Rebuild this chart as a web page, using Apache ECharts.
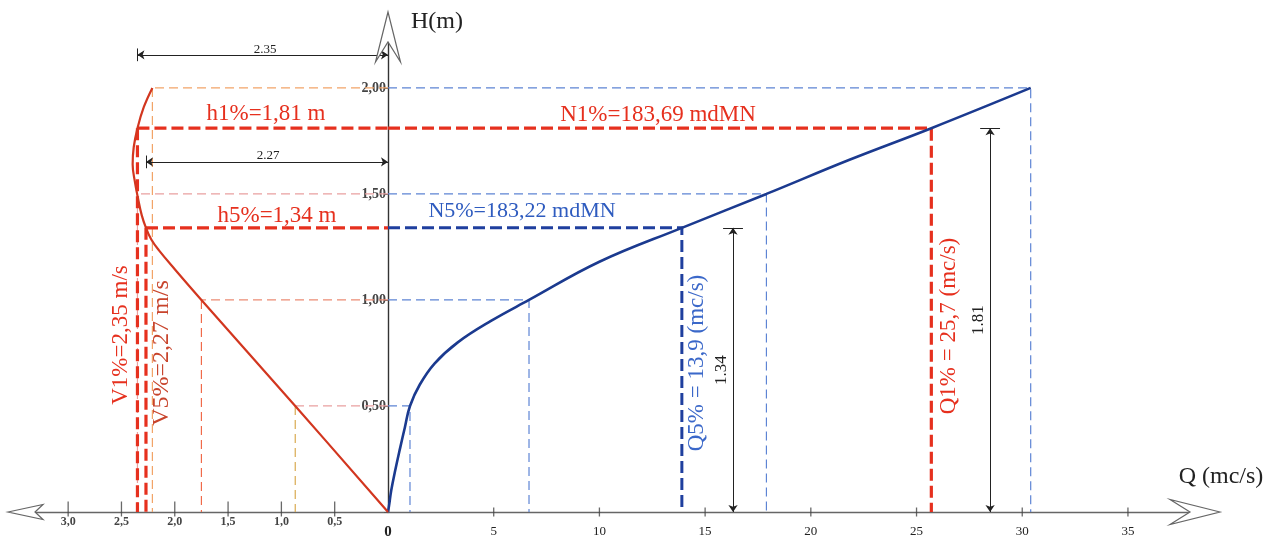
<!DOCTYPE html>
<html><head><meta charset="utf-8">
<script src="https://cdn.jsdelivr.net/npm/echarts@6/dist/echarts.min.js"></script>
<style>html,body{margin:0;padding:0;background:#fff}#c{width:1276px;height:540px}</style>
</head><body><div id="c"></div>
<script>
// ---- data ----
const qTicks = [0, 5, 10, 15, 20, 25, 30, 35];
const vTicks = [0, 0.5, 1.0, 1.5, 2.0, 2.5, 3.0];
const hTicks = [0.5, 1.0, 1.5, 2.0];

// rating curve H(Q)
const ratingQ = [0, 0.05, 0.15, 0.35, 0.57, 0.8, 1.04, 1.5, 2.2, 3.3, 4.85, 6.67, 10.0, 13.9, 17.9, 21.8, 25.7, 30.4];
const ratingH = [0, 0.03, 0.1, 0.2, 0.3, 0.4, 0.5, 0.6, 0.7, 0.8, 0.9, 1.0, 1.18, 1.34, 1.5, 1.66, 1.81, 2.0];

// velocity curve H(V)
const velV = [0, 0.87, 1.75, 2.0, 2.15, 2.22, 2.27, 2.31, 2.345, 2.375, 2.395, 2.385, 2.35, 2.29, 2.21];
const velH = [0, 0.5, 1.0, 1.145, 1.235, 1.285, 1.34, 1.40, 1.48, 1.56, 1.64, 1.72, 1.81, 1.91, 2.0];

// reference levels
const refH = [0.5, 1.0, 1.5, 2.0];
const refQ = [1.04, 6.67, 17.9, 30.4];
const refV = [0.87, 1.75, 2.35, 2.21];

// design values: [1%, 5%]
const designH = [1.81, 1.34];
const designQ = [25.7, 13.9];
const designV = [2.35, 2.27];

// dimension lines
const dimVLevel = [2.156, 1.651];   // H level of the 2.35 / 2.27 dims
const dimQPos = [16.32, 28.48];     // Q position of the 1.34 / 1.81 dims

// ---- build ----
const RED = '#e6301e', BLUE = '#1f3f9e', THINBLUE = '#5d84d4';
const serif = 'Liberation Serif';
const chart = echarts.init(document.getElementById('c'), null, {renderer: 'canvas'});

const leftRefColH = ['#e9a0a0', '#ec8c74', '#e9a0a0', '#f2a468'];
const leftRefColV = ['#d9aa50', '#f06a4a', '#e9a0a0', '#f2a468'];

const series = [];
const L = {xAxisIndex: 0, yAxisIndex: 0}, R = {xAxisIndex: 1, yAxisIndex: 1};

series.push(Object.assign({
  type: 'lines', coordinateSystem: 'cartesian2d', polyline: true, silent: true, z: 2,
  lineStyle: {color: THINBLUE, width: 1.2, type: [9, 5], opacity: 1},
  data: refH.map((h, i) => ({coords: [[0, h], [refQ[i], h], [refQ[i], 0]]}))
}, R));
series.push(Object.assign({
  type: 'lines', coordinateSystem: 'cartesian2d', polyline: true, silent: true, z: 2,
  lineStyle: {width: 1.2, type: [9, 5], opacity: 1},
  data: refH.map((h, i) => ({coords: [[0, h], [refV[i], h]], lineStyle: {color: leftRefColH[i]}}))
    .concat(refH.map((h, i) => ({coords: [[refV[i], h], [refV[i], 0]], lineStyle: {color: leftRefColV[i]}})))
}, L));

series.push(Object.assign({
  type: 'lines', coordinateSystem: 'cartesian2d', polyline: true, silent: true, z: 3,
  lineStyle: {width: 3.2, type: [12, 5], opacity: 1},
  data: [
    {coords: [[designV[0], designH[0]], [0, designH[0]]], lineStyle: {color: RED}},
    {coords: [[designV[0], designH[0]], [designV[0], 0]], lineStyle: {color: RED}},
    {coords: [[designV[1], designH[1]], [0, designH[1]]], lineStyle: {color: RED}},
    {coords: [[designV[1], designH[1]], [designV[1], 0]], lineStyle: {color: RED}}
  ]
}, L));
series.push(Object.assign({
  type: 'lines', coordinateSystem: 'cartesian2d', polyline: true, silent: true, z: 3,
  lineStyle: {width: 3.2, type: [12, 5], opacity: 1},
  data: [
    {coords: [[0, designH[0]], [designQ[0], designH[0]], [designQ[0], 0]], lineStyle: {color: RED}},
    {coords: [[0, designH[1]], [designQ[1], designH[1]], [designQ[1], 0]], lineStyle: {color: BLUE, width: 3}}
  ]
}, R));

series.push(Object.assign({
  type: 'lines', coordinateSystem: 'cartesian2d', silent: true, z: 4,
  symbol: ['arrow', 'arrow'], symbolSize: 7,
  lineStyle: {color: '#222', width: 1, opacity: 1, curveness: 0},
  data: dimVLevel.map((lv, i) => ({coords: [[designV[i], lv], [0, lv]]}))
}, L));
series.push(Object.assign({
  type: 'lines', coordinateSystem: 'cartesian2d', silent: true, z: 4,
  lineStyle: {color: '#222', width: 1, opacity: 1},
  data: dimVLevel.map((lv, i) => ({coords: [[designV[i], lv + 0.03], [designV[i], lv - 0.03]]}))
}, L));
series.push(Object.assign({
  type: 'lines', coordinateSystem: 'cartesian2d', silent: true, z: 4,
  symbol: ['arrow', 'arrow'], symbolSize: 7,
  lineStyle: {color: '#222', width: 1, opacity: 1},
  data: dimQPos.map((q, i) => ({coords: [[q, 0], [q, designH[1 - i]]]}))
}, R));
series.push(Object.assign({
  type: 'lines', coordinateSystem: 'cartesian2d', silent: true, z: 4,
  lineStyle: {color: '#222', width: 1, opacity: 1},
  data: dimQPos.map((q, i) => ({coords: [[q - 0.47, designH[1 - i]], [q + 0.47, designH[1 - i]]]}))
}, R));

series.push(Object.assign({
  type: 'scatter', silent: true, z: 5, symbol: 'rect', symbolSize: [1.3, 9],
  itemStyle: {color: '#444'},
  data: qTicks.filter(q => q > 0).map(q => [q, 0])
}, R));
series.push(Object.assign({
  type: 'scatter', silent: true, z: 5, symbol: 'rect', symbolSize: [1.3, 15], symbolOffset: [0, -3],
  itemStyle: {color: '#444'},
  data: vTicks.filter(v => v > 0).map(v => [v, 0])
}, L));

series.push(Object.assign({
  type: 'line', silent: true, z: 6, showSymbol: false, smooth: 0.4,
  lineStyle: {color: '#1b3a8f', width: 2.6},
  data: ratingQ.map((q, i) => [q, ratingH[i]])
}, R));
series.push(Object.assign({
  type: 'line', silent: true, z: 6, showSymbol: false, smooth: 0.4,
  lineStyle: {color: '#d2361f', width: 2.2},
  data: velV.map((v, i) => [v, velH[i]])
}, L));

function txt(t, x, y, color, size, rot) {
  return {type: 'text', x: x, y: y, rotation: rot || 0, z: 50, silent: true,
    style: {text: t, fill: color, fontSize: size, fontFamily: serif,
      align: 'center', verticalAlign: 'middle', textAlign: 'center', textVerticalAlign: 'middle'}};
}
function arrow(pts) {
  return {type: 'polygon', z: 60, silent: true, shape: {points: pts},
    style: {fill: '#fff', stroke: '#666', lineWidth: 1.2}};
}
const R90 = Math.PI / 2;

const option = {
  animation: false,
  backgroundColor: '#fff',
  grid: [
    {left: 25.5, top: 37, width: 362.5, height: 475, outerBoundsMode: 'none'},
    {left: 388, top: 37, width: 807.6, height: 475, outerBoundsMode: 'none'}
  ],
  xAxis: [
    {gridIndex: 0, type: 'value', min: 0, max: 3.4, interval: 0.5, inverse: true,
      axisLine: {lineStyle: {color: '#666', width: 1.4}}, axisTick: {show: false}, splitLine: {show: false},
      axisLabel: {margin: 4, fontSize: 12, fontFamily: serif, fontWeight: 'bold', color: '#444',
        formatter: v => (v < 0.01 || v > 3.01) ? '' : v.toFixed(1).replace('.', ',')}},
    {gridIndex: 1, type: 'value', min: 0, max: 38.2, interval: 5,
      axisLine: {lineStyle: {color: '#666', width: 1.4}}, axisTick: {show: false}, splitLine: {show: false},
      axisLabel: {margin: 13, fontSize: 13, fontFamily: serif, color: '#222',
        formatter: v => v === 0 ? '{z|0}' : (qTicks.indexOf(v) >= 0 ? String(v) : ''),
        rich: {z: {fontSize: 15, fontWeight: 'bold', fontFamily: serif, color: '#222'}}}}
  ],
  yAxis: [
    {gridIndex: 0, type: 'value', min: 0, max: 2.24, interval: 0.5, show: false},
    {gridIndex: 1, type: 'value', min: 0, max: 2.24, interval: 0.5,
      axisLine: {show: true, lineStyle: {color: '#333', width: 1.4}},
      axisTick: {show: true, length: 4, lineStyle: {color: '#555'}}, splitLine: {show: false},
      axisLabel: {margin: 2, fontSize: 14, fontFamily: serif, color: '#444', fontWeight: 'bold',
        formatter: v => hTicks.indexOf(v) >= 0 ? v.toFixed(2).replace('.', ',') : ''}}
  ],
  series: series,
  graphic: [
    arrow([[1220, 512], [1170, 499.5], [1190, 512], [1170, 524.5]]),
    arrow([[388, 12], [375.5, 62], [388, 42], [400.5, 62]]),
    arrow([[8, 512], [43, 504.5], [35, 512], [43, 519.5]]),
    txt('H(m)', 437, 22, '#222', 24),
    txt('Q (mc/s)', 1221, 477, '#222', 24),
    txt('2.35', 265, 50, '#222', 13),
    txt('2.27', 268, 156, '#222', 13),
    txt('h1%=1,81 m', 266, 114, RED, 23),
    txt('h5%=1,34 m', 277, 216, RED, 23),
    txt('N1%=183,69 mdMN', 658, 115, RED, 23),
    txt('N5%=183,22 mdMN', 522, 211, '#2e5bbf', 22),
    txt('V1%=2,35 m/s', 121, 335, RED, 23, R90),
    txt('V5%=2,27 m/s', 162, 353, '#c8442c', 24, R90),
    txt('Q5% = 13,9 (mc/s)', 697, 363, '#3b68c9', 23, R90),
    txt('1.34', 722, 370, '#222', 17, R90),
    txt('Q1% = 25,7 (mc/s)', 949, 326, RED, 23, R90),
    txt('1.81', 979, 320, '#222', 17, R90)
  ]
};
chart.setOption(option);
</script></body></html>
